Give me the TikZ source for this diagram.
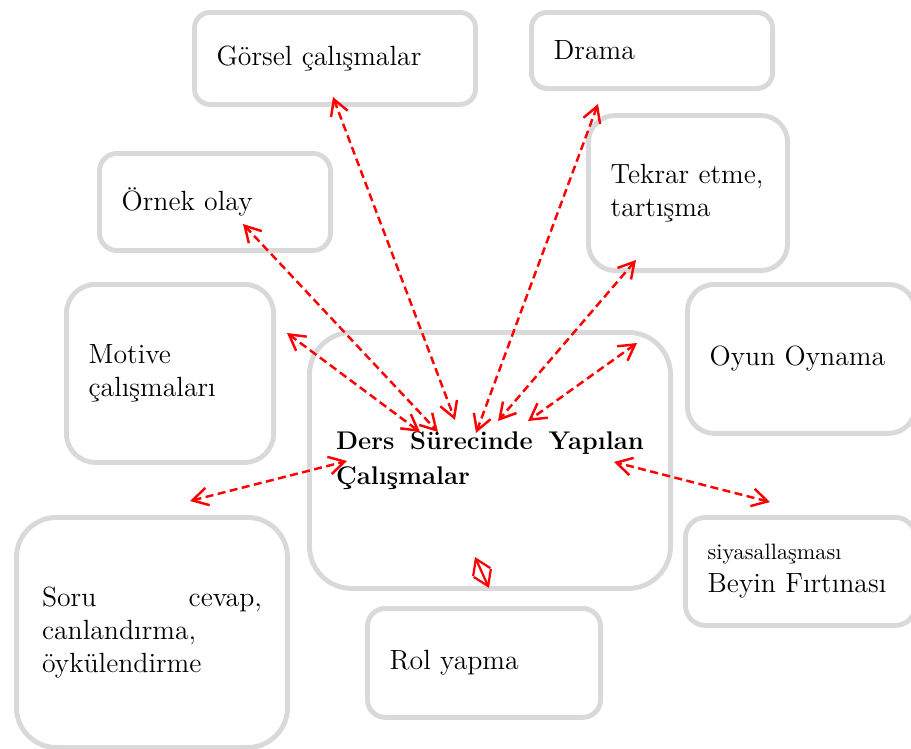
\documentclass[tikz,border=0pt]{standalone}
\usepackage{tikz}
\usetikzlibrary{arrows.meta}
\definecolor{kutu gri}{RGB}{217,217,217}
\definecolor{ok kirmizi}{RGB}{255,0,0}
\hyphenpenalty=10000
\tolerance=10000

\begin{document}
\begin{tikzpicture}[x=0.45pt, y=-0.45pt,
	kutu/.style={draw=kutu gri, line width=2.2pt, anchor=north west, inner xsep=10pt, align=left, font=\fontsize{12.5}{15}\selectfont},
	ok/.style={draw=ok kirmizi, line width=1.1pt, dash pattern=on 3.6pt off 2pt, {Straight Barb[length=7pt,width=8pt]}-{Straight Barb[length=7pt,width=8pt]}},
	kisa ok/.style={draw=ok kirmizi, line width=1pt, {Straight Barb[length=6.5pt,width=8.5pt]}-{Straight Barb[length=6.5pt,width=8.5pt]}}]
			\useasboundingbox (0,0) rectangle (911,749);
			% upper boxes
			\node[kutu, minimum width=126.5pt, minimum height=41.4pt, text width=106.5pt, rounded corners=7pt] (gorsel) at (192,10) {Görsel çalışmalar};
			\node[kutu, minimum width=108.5pt, minimum height=34.2pt, text width=88.5pt, rounded corners=7pt] (drama) at (529,10) {Drama};
			\node[kutu, minimum width=104pt, minimum height=43.7pt, text width=84pt, rounded corners=8pt] (ornek) at (97,151) {Örnek olay};
			\node[kutu, minimum width=89.6pt, minimum height=69.8pt, text width=69.6pt, rounded corners=12pt] (tekrar) at (586,113) {Tekrar etme,\\tartışma};
			% middle boxes
			\node[kutu, minimum width=93.2pt, minimum height=80.1pt, text width=73.2pt, rounded corners=13pt] (motive) at (64,282) {Motive\\çalışmaları};
			\node[kutu, minimum width=102.6pt, minimum height=67pt, text width=82.6pt, rounded corners=12pt] (oyun) at (685,282) {Oyun Oynama};
			\node[kutu, minimum width=162.5pt, minimum height=115.2pt, inner xsep=12pt, text width=138.5pt, align=justify, font=\fontsize{11.5}{16}\selectfont\bfseries, rounded corners=19pt] (merkez) at (307,330) {Ders Sürecinde Yapılan Çalışmalar};
			% lower boxes
			\node[kutu, minimum width=122pt, minimum height=103.5pt, inner xsep=11.5pt, text width=99pt, align=justify, rounded corners=18pt] (soru) at (14,515) {Soru cevap, canlandırma, öykülendirme};
			\node[kutu, minimum width=104.9pt, minimum height=49pt, text width=84.9pt, rounded corners=8pt] (rol) at (365,606) {Rol yapma};
			\node[kutu, minimum width=103.5pt, minimum height=48.6pt, text width=83.5pt, rounded corners=9pt] (beyin) at (683,515) {{\fontsize{10}{12}\selectfont siyasallaşması}\\Beyin Fırtınası};
			% arrows
			\foreach \ad/\ux/\uy/\ix/\iy in {gorsel/333/97/455/420, drama/598/104/476/433, ornek/243/224/438/432, tekrar/636/260/498/421, motive/287/333/420/432, oyun/637/343/528/421, soru/190/501/347/461, beyin/770/502/614/462} {
				\coordinate (\ad-uc) at (\ux,\uy);
				\coordinate (\ad-ic) at (\ix,\iy);
				\draw[ok] (\ad-uc) -- (\ad-ic);
			}
			\coordinate (rol-uc) at (489,588);
			\coordinate (rol-ic) at (475,557);
			\draw[kisa ok] (rol-uc) -- (rol-ic);
		\end{tikzpicture}
\end{document}
